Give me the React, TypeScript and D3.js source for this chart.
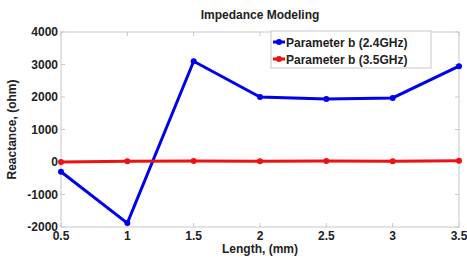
import React, { useRef, useEffect } from 'react';
import * as d3 from 'd3';

const lengths = [0.5, 1, 1.5, 2, 2.5, 3, 3.5];
const b24 = [-300, -1880, 3100, 2000, 1940, 1970, 2950];
const b35 = [0, 20, 30, 20, 30, 20, 40];
const xTicks = [0.5, 1, 1.5, 2, 2.5, 3, 3.5];
const yTicks = [-2000, -1000, 0, 1000, 2000, 3000, 4000];
const seriesNames = ['Parameter b (2.4GHz)', 'Parameter b (3.5GHz)'];
const seriesColors = ['#0000ee', '#ee1111'];

const W = 467, H = 260;
const m = { left: 61, right: 8, top: 32, bottom: 33 };

const App = () => {
  const ref = useRef<SVGSVGElement>(null);

  useEffect(() => {
    const svg = d3.select(ref.current);
    svg.selectAll('*').remove();
    const font = 'Liberation Sans, Arial, sans-serif';

    const x = d3.scaleLinear().domain([0.5, 3.5]).range([m.left, W - m.right]);
    const y = d3.scaleLinear().domain([-2000, 4000]).range([H - m.bottom, m.top]);

    svg.append('rect').attr('width', W).attr('height', H).attr('fill', '#fff');

    // frame
    svg.append('rect')
      .attr('x', x(0.5)).attr('y', y(4000))
      .attr('width', x(3.5) - x(0.5)).attr('height', y(-2000) - y(4000))
      .attr('fill', 'none').attr('stroke', '#c8c8c8').attr('stroke-width', 1);

    const tl = 4;
    xTicks.forEach(t => {
      svg.append('line').attr('x1', x(t)).attr('x2', x(t)).attr('y1', y(-2000)).attr('y2', y(-2000) - tl).attr('stroke', '#c8c8c8');
      svg.append('line').attr('x1', x(t)).attr('x2', x(t)).attr('y1', y(4000)).attr('y2', y(4000) + tl).attr('stroke', '#c8c8c8');
      svg.append('text').attr('x', x(t)).attr('y', y(-2000) + 13)
        .attr('text-anchor', 'middle').attr('font-family', font).attr('font-weight', 'bold')
        .attr('font-size', 12).attr('fill', '#222').text(t);
    });
    yTicks.forEach(t => {
      svg.append('line').attr('x1', x(0.5)).attr('x2', x(0.5) + tl).attr('y1', y(t)).attr('y2', y(t)).attr('stroke', '#c8c8c8');
      svg.append('line').attr('x1', x(3.5)).attr('x2', x(3.5) - tl).attr('y1', y(t)).attr('y2', y(t)).attr('stroke', '#c8c8c8');
      svg.append('text').attr('x', x(0.5) - 3).attr('y', y(t) + 4)
        .attr('text-anchor', 'end').attr('font-family', font).attr('font-weight', 'bold')
        .attr('font-size', 12).attr('fill', '#222').text(t);
    });

    const data = [b24, b35];
    data.forEach((vals, i) => {
      const pts = lengths.map((l, j) => [l, vals[j]] as [number, number]);
      const line = d3.line<[number, number]>().x(d => x(d[0])).y(d => y(d[1]));
      svg.append('path').datum(pts).attr('d', line)
        .attr('fill', 'none').attr('stroke', seriesColors[i]).attr('stroke-width', 3);
      svg.selectAll(null).data(pts).join('circle')
        .attr('cx', d => x(d[0])).attr('cy', d => y(d[1])).attr('r', 3)
        .attr('fill', seriesColors[i]);
    });

    // title and labels
    svg.append('text').attr('x', (x(0.5) + x(3.5)) / 2).attr('y', 19)
      .attr('text-anchor', 'middle').attr('font-family', font).attr('font-weight', 'bold')
      .attr('font-size', 12).attr('fill', '#222').text('Impedance Modeling');
    svg.append('text').attr('x', (x(0.5) + x(3.5)) / 2).attr('y', 253)
      .attr('text-anchor', 'middle').attr('font-family', font).attr('font-weight', 'bold')
      .attr('font-size', 12).attr('fill', '#222').text('Length, (mm)');
    svg.append('text')
      .attr('transform', `translate(16,${(y(4000) + y(-2000)) / 2}) rotate(-90)`)
      .attr('text-anchor', 'middle').attr('font-family', font).attr('font-weight', 'bold')
      .attr('font-size', 12).attr('fill', '#222').text('Reactance, (ohm)');

    // legend
    const lg = svg.append('g');
    lg.append('rect').attr('x', 271).attr('y', 31).attr('width', 160).attr('height', 37)
      .attr('fill', '#fff').attr('stroke', '#c8c8c8');
    seriesNames.forEach((n, i) => {
      const ly = 42 + i * 17;
      lg.append('line').attr('x1', 273).attr('x2', 285).attr('y1', ly).attr('y2', ly)
        .attr('stroke', seriesColors[i]).attr('stroke-width', 3);
      lg.append('circle').attr('cx', 279).attr('cy', ly).attr('r', 3).attr('fill', seriesColors[i]);
      lg.append('text').attr('x', 286).attr('y', ly + 4.5).attr('font-family', font)
        .attr('font-weight', 'bold').attr('font-size', 12).attr('fill', '#222').text(n);
    });
  }, []);

  return (
    <svg ref={ref} width={W} height={H} style={{ position: 'absolute', left: 0, top: 0 }} />
  );
};

export default App;
